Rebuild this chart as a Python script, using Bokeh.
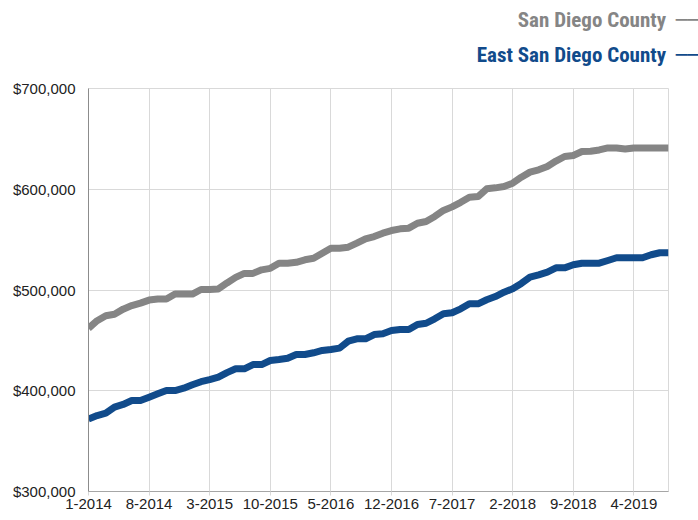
from bokeh.plotting import figure
from bokeh.models import Range1d, FixedTicker, NumeralTickFormatter, Title
from bokeh.embed import file_html
from bokeh.resources import INLINE

# Monthly index 0 = 1-2014 ... 67 = 8-2019
month_index = list(range(68))
tick_positions = [0, 7, 14, 21, 28, 35, 42, 49, 56, 63]
tick_labels = ["1-2014", "8-2014", "3-2015", "10-2015", "5-2016",
               "12-2016", "7-2017", "2-2018", "9-2018", "4-2019"]

san_diego = [462000, 469500, 474500, 476000, 481000, 484500, 487000, 490000, 491000, 491000,
             496000, 496000, 496000, 500500, 500500, 501000, 507000, 512500, 516500, 516500,
             520000, 521500, 526500, 526500, 527500, 530000, 531500, 536500, 541500, 541500,
             542500, 546500, 550800, 553000, 556400, 559000, 560700, 561400, 566300, 568000,
             573000, 579000, 582500, 587000, 592000, 592800, 600400, 601400, 602700, 606000,
             612000, 617000, 619300, 622600, 628000, 632500, 633500, 637500, 637800, 639000,
             641000, 641000, 640000, 641000, 641000, 641000, 641000, 641000]

east_san_diego = [372000, 375400, 377700, 383700, 386400, 390300, 390300, 393600, 397000, 400200,
                  400200, 402500, 405900, 409000, 411000, 413500, 418000, 421800, 421800, 426000,
                  426000, 430000, 431000, 432300, 436000, 436000, 437700, 440000, 441000, 442300,
                  449200, 451500, 451500, 455800, 456500, 459800, 460800, 460800, 465800, 467000,
                  471400, 476400, 477400, 481300, 486300, 486300, 490300, 493500, 497800, 501200,
                  506500, 512700, 515000, 517700, 522000, 522000, 525000, 526600, 526600, 526600,
                  529300, 532000, 532000, 532000, 532000, 535000, 537000, 537000]

series_names = ["San Diego County", "East San Diego County"]
series_colors = ["#858585", "#114b8b"]

X0, X1 = 0, 67
Y0, Y1 = 300000, 700000
W, H = 698, 520
BL, BR, BT, BB = 88, 30, 88, 29

p = figure(width=W, height=H, output_backend="svg", toolbar_location=None,
           x_range=Range1d(X0, X1), y_range=Range1d(Y0, Y1),
           min_border_left=BL, min_border_right=BR, min_border_top=BT, min_border_bottom=BB,
           background_fill_color="white", border_fill_color="white")
p.outline_line_color = "#d9d9d9"

p.xgrid.ticker = FixedTicker(ticks=tick_positions)
p.xgrid.grid_line_color = "#d9d9d9"
p.ygrid.grid_line_color = "#d9d9d9"

p.xaxis.ticker = FixedTicker(ticks=tick_positions)
p.xaxis.major_label_overrides = {t: l for t, l in zip(tick_positions, tick_labels)}
p.xaxis.minor_tick_line_color = None
p.xaxis.major_tick_in = 0
p.xaxis.major_tick_out = 4
p.xaxis.major_tick_line_color = "#d9d9d9"
p.xaxis.axis_line_color = "#a6a6a6"
p.xaxis.major_label_standoff = 3

p.yaxis.ticker = FixedTicker(ticks=[300000, 400000, 500000, 600000, 700000])
p.yaxis.formatter = NumeralTickFormatter(format="$0,0")
p.yaxis.minor_tick_line_color = None
p.yaxis.major_tick_in = 0
p.yaxis.major_tick_out = 0
p.yaxis.axis_line_color = "#8c8c8c"
p.yaxis.major_label_standoff = 13

for ax in (p.xaxis, p.yaxis):
    ax.major_label_text_font = "Liberation Sans"
    ax.major_label_text_font_size = "15px"
    ax.major_label_text_color = "#222222"

for vals, col in zip([san_diego, east_san_diego], series_colors):
    p.line(month_index, vals, line_color=col, line_width=7, line_join="round")

# legend entries as right-aligned titles above the frame (later = further up)
legend_font = "'Liberation Sans Narrow', 'Roboto Condensed', 'DejaVu Sans Condensed', sans-serif"
legend_standoffs = [-26, 44]
legend_marker = "\u00a0\u00a0\u2500\u2500"
for name, col, so in reversed(list(zip(series_names, series_colors, legend_standoffs))):
    p.add_layout(Title(text=name + legend_marker, align="right", offset=-BR,
                       text_color=col, text_font=legend_font, text_font_style="bold",
                       text_font_size="21px", standoff=so), "above")

open("out.html", "w").write(file_html(p, INLINE))
